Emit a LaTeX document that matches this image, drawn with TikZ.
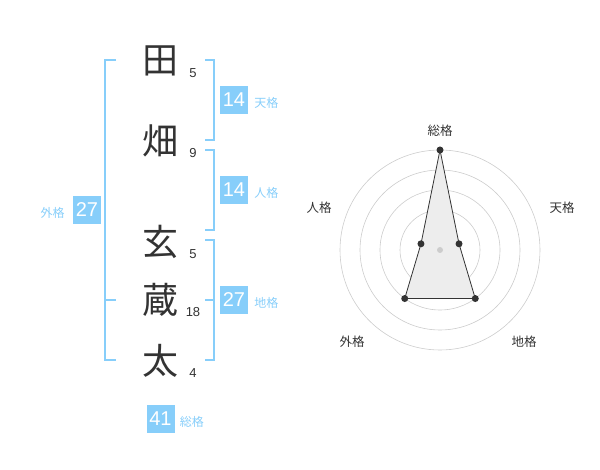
\documentclass[tikz,border=0pt]{standalone}
\usepackage{fontspec}
\setmainfont{Liberation Sans}
\newfontfamily\jp{Noto Sans CJK JP}
\definecolor{sora}{HTML}{87CEFA}
\definecolor{sumi}{HTML}{333333}
\tikzset{kanji/.style={text=sumi,font=\jp\fontsize{36}{36}\selectfont,inner sep=0pt},
kakusu/.style={text=sumi,font=\fontsize{13}{13}\selectfont,inner sep=0pt},
kakubox/.style={fill=sora,text=white,minimum size=28pt,inner sep=0pt,font=\fontsize{20}{20}\selectfont},
kakuname/.style={text=sora,font=\jp\fontsize{12}{12}\selectfont,inner sep=0pt,yshift=-3pt},
kakko/.style={draw=sora,line width=1.6pt},
axisname/.style={text=sumi,font=\jp\fontsize{12.5}{12.5}\selectfont,inner sep=0pt},
ring/.style={draw=black!20,line width=0.6pt},
vtx/.style={circle,fill=sumi,inner sep=0pt,minimum size=7pt}}
\begin{document}
\begin{tikzpicture}[x=1pt,y=-1pt]
\useasboundingbox (0,0) rectangle (600,470);
\foreach \c/\y/\n [count=\i] in {田/61/5,畑/141/9,玄/242/5,蔵/300/18,太/361/4}{\node[kanji] (k\i) at (160,\y) {\c};\node[kakusu] (n\i) at (193,\y+12) {\n};}
\draw[kakko] (116,60)--(105,60)--(105,360)--(116,360) (105,300)--(116,300);
\draw[kakko] (205,60)--(214,60)--(214,140)--(205,140);
\draw[kakko] (205,150)--(214,150)--(214,230)--(205,230);
\draw[kakko] (205,240)--(214,240)--(214,360)--(205,360) (214,300)--(205,300);
\foreach \y/\v/\t/\nm in {100/14/天格/ten,190/14/人格/jin,300/27/地格/chi}{\node[kakubox] (\nm) at (234,\y) {\v};\node[kakuname,anchor=west] (\nm l) at ([xshift=6pt]\nm.east) {\t};}
\node[kakubox] (gai) at (87,210) {27};\node[kakuname,anchor=east] (gai l) at ([xshift=-8pt]gai.west) {外格};
\node[kakubox] (sou) at (160.5,419) {41};\node[kakuname,anchor=west] (sou l) at ([xshift=5pt]sou.east) {総格};
\begin{scope}[shift={(440,250)}]
\foreach \r in {20,40,...,100}{\draw[ring] (0,0) circle (\r pt);}
\foreach \a/\r/\lx/\ly/\t [count=\i] in {-90/100/0/-119/総格,-18/20/122/-42/天格,54/60/84/92/地格,126/60/-88/92/外格,198/20/-121/-42/人格}{\coordinate (p\i) at (\a:\r);\node[axisname] (a\i) at (\lx,\ly) {\t};}
\filldraw[fill=black!7,draw=sumi,line width=0.8pt] (p1)--(p2)--(p3)--(p4)--(p5)--cycle;
\foreach \i in {1,...,5}{\node[vtx] at (p\i) {};}
\node[circle,fill=black!20,inner sep=0pt,minimum size=6pt] (o) at (0,0) {};
\end{scope}
\end{tikzpicture}
\end{document}
